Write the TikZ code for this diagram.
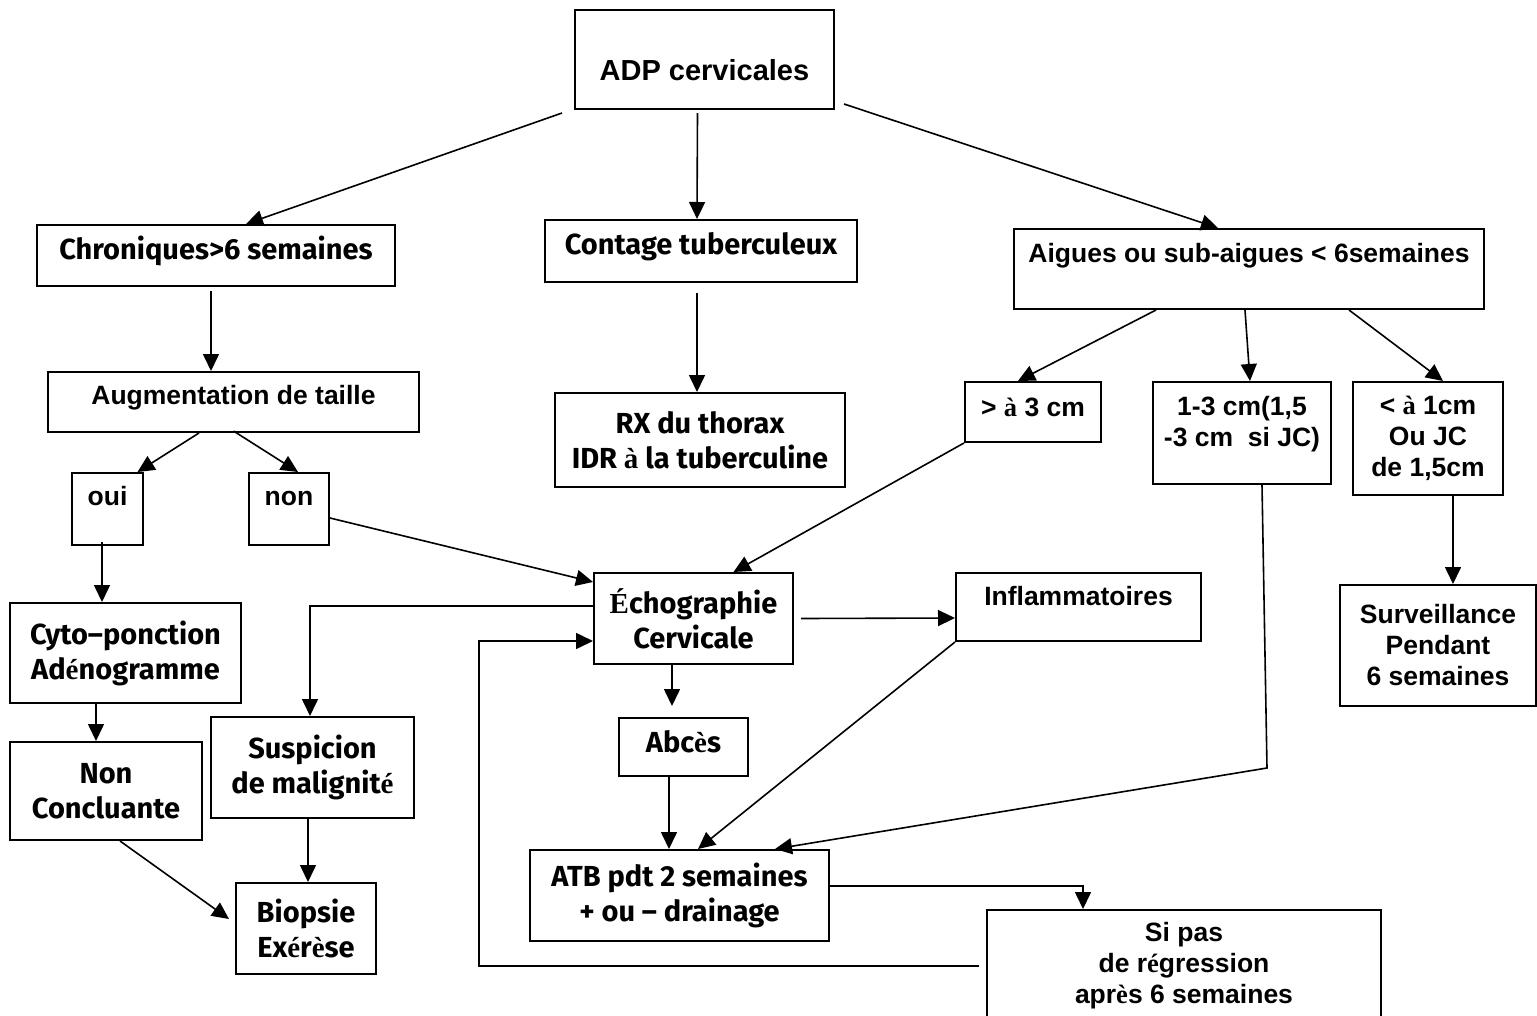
\documentclass[tikz,border=0pt]{standalone}
\usepackage{fontspec}
\setmainfont{Liberation Sans}
\newfontfamily\lucfont{Fira Sans}
\newfontfamily\accfont{Liberation Serif}
\newcommand{\acc}[1]{{\accfont\bfseries #1}}
\usetikzlibrary{arrows.meta}

\begin{document}
\begin{tikzpicture}[x=1pt, y=-1pt, line width=1.6pt,
  box/.style = {draw, line width=2pt, inner sep=0pt, align=center},
  ar/.style = {font=\fontsize{26.5}{31}\selectfont\bfseries},
  lu/.style = {font=\lucfont\fontsize{29}{35}\selectfont\bfseries},
  arr/.style = {-{Triangle[length=17pt, width=16pt]}}]
\useasboundingbox (0,0) rectangle (1537,1015);

\node[box, anchor=base, minimum width=259pt, text height=70pt, text depth=29pt, font=\fontsize{29}{34}\selectfont\bfseries] (adp) at (704.5,80) {ADP cervicales};
\node[box, lu, anchor=base, minimum width=358pt, text height=34pt, text depth=27pt] (chron) at (216,259) {Chroniques>6 semaines};
\node[box, lu, anchor=base, minimum width=312pt, text height=34pt, text depth=28pt] (contage) at (701,254) {Contage tuberculeux};
\node[box, ar, anchor=base, minimum width=470pt, text height=33pt, text depth=47pt] (aigues) at (1249,262) {Aigues ou sub-aigues < 6semaines};
\node[box, ar, anchor=base, minimum width=371pt, text height=32pt, text depth=28pt] (augm) at (233.5,404) {Augmentation de taille};
\node[box, lu, minimum width=290pt, minimum height=94pt] (rx) at (700,440) {RX du thorax\\IDR \acc{à} la tuberculine};
\node[box, ar, anchor=base, minimum width=136pt, text height=34pt, text depth=26pt] (gt3) at (1033,416) {> \acc{à} 3 cm};
\node[box, ar, minimum width=178pt, minimum height=102pt] (b13) at (1242,433) {1-3 cm(1,5\\-3 cm\ \ si JC)\\[-7pt]~};
\node[box, ar, minimum width=150pt, minimum height=113pt] (lt1) at (1428,438.5) {< \acc{à} 1cm\\Ou JC\\de 1,5cm};
\node[box, ar, anchor=base, minimum width=71pt, text height=32pt, text depth=40pt] (oui) at (107.5,505) {oui};
\node[box, ar, anchor=base, minimum width=80pt, text height=32pt, text depth=40pt] (non) at (289,505) {non};
\node[box, lu, minimum width=199pt, minimum height=91pt] (echo) at (693.5,618.5) {\acc{É}chographie\\Cervicale};
\node[box, ar, anchor=base, minimum width=245pt, text height=32pt, text depth=36pt] (infl) at (1078.5,605) {Inflammatoires};
\node[box, ar, minimum width=196pt, minimum height=121pt] (surv) at (1438,645.5) {Surveillance\\Pendant\\6 semaines};
\node[box, lu, minimum width=231pt, minimum height=100pt] (cyto) at (125.5,653) {Cyto–ponction\\Ad\acc{é}nogramme};
\node[box, lu, minimum width=203pt, minimum height=101pt] (susp) at (312.5,767.5) {Suspicion\\de malignit\acc{é}};
\node[box, lu, minimum width=192pt, minimum height=98pt] (ncon) at (106,791) {Non\\Concluante};
\node[box, lu, anchor=base, minimum width=129pt, text height=34pt, text depth=24pt] (abces) at (683.5,752) {Abc\acc{è}s};
\node[box, lu, minimum width=299pt, minimum height=91pt] (atb) at (679.5,895.5) {ATB pdt 2 semaines\\+ ou – drainage};
\node[box, lu, minimum width=140pt, minimum height=91pt] (biop) at (306,928.5) {Biopsie\\Ex\acc{é}r\acc{è}se};
\node[box, ar, minimum width=394pt, minimum height=112pt] (sipas) at (1184,966) {Si pas\\de r\acc{é}gression\\apr\acc{è}s 6 semaines};
\coordinate (k13) at (1267,768);

\draw[arr] ([xshift=-12pt,yshift=-3pt]adp.south west) -- ([xshift=30pt]chron.north);
\draw[arr] ([xshift=-7pt,yshift=-3pt]adp.south) -- ([xshift=-4pt]contage.north);
\draw[arr] ([xshift=9pt,yshift=6pt]adp.south east) -- ([xshift=-31pt]aigues.north);
\draw[arr] ([xshift=-5pt,yshift=-4pt]chron.south) -- ([xshift=-22.5pt]augm.north);
\draw[arr] ([xshift=-4pt,yshift=-10pt]contage.south) -- ([xshift=-3pt]rx.north);
\draw[arr] ([xshift=-93pt]aigues.south) -- ([xshift=-15pt]gt3.north);
\draw[arr] ([xshift=-4pt]aigues.south) -- ([xshift=8pt]b13.north);
\draw[arr] ([xshift=100pt]aigues.south) -- ([xshift=15pt]lt1.north);
\draw[arr] ([xshift=-34.5pt]augm.south) -- ([xshift=30pt]oui.north);
\draw[arr] ([yshift=2pt]augm.south) -- ([xshift=9pt]non.north);
\draw[arr] ([xshift=-5.5pt,yshift=4pt]oui.south) -- ([xshift=-23.5pt]cyto.north);
\draw[arr] ([yshift=-9pt]non.east) -- ([yshift=36.5pt]echo.west);
\draw[arr] (gt3.south west) -- ([xshift=40pt]echo.north);
\draw[arr] ([xshift=-29.5pt]cyto.south) -- ([xshift=-10pt]ncon.north);
\draw[arr] ([yshift=12.5pt]echo.west) -| ([xshift=-2.5pt]susp.north);
\draw[arr] ([xshift=7pt]echo.east) -- ([yshift=-11pt]infl.west);
\draw[arr] ([xshift=-21.5pt]echo.south) -- ([xshift=-11.5pt,yshift=11pt]abces.north);
\draw[arr] ([xshift=-14.5pt]abces.south) -- ([xshift=-10.5pt]atb.north);
\draw[arr] (infl.south west) -- ([xshift=18.5pt]atb.north);
\draw[arr] ([xshift=20pt]b13.south) -- (k13) -- ([xshift=95.5pt]atb.north);
\draw[arr] ([yshift=9.5pt]atb.east) -| ([xshift=-101pt]sipas.north);
\draw[arr] ([xshift=-7pt]sipas.west) -| ([xshift=-114pt,yshift=-22.5pt]echo.west) -- ([yshift=-22.5pt]echo.west);
\draw[arr] ([xshift=14pt]ncon.south) -- ([xshift=-6pt,yshift=9.5pt]biop.west);
\draw[arr] ([xshift=-4.5pt]susp.south) -- ([xshift=2pt]biop.north);
\draw[arr] ([xshift=25pt]lt1.south) -- ([xshift=15pt]surv.north);
\end{tikzpicture}
\end{document}
